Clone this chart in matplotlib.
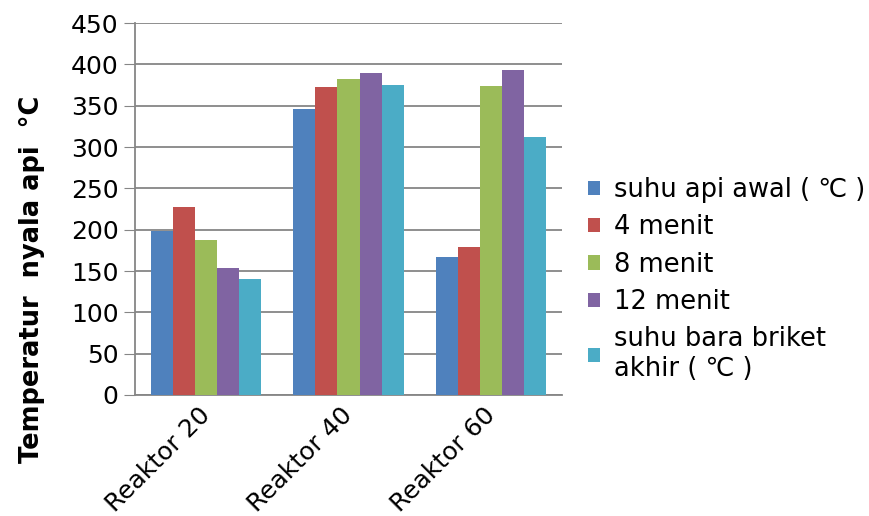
import numpy as np
import matplotlib.pyplot as plt
import matplotlib.transforms as mtransforms

categories = ["Reaktor 20", "Reaktor 40", "Reaktor 60"]
series_names = [
    "suhu api awal ( ℃ )",
    "4 menit",
    "8 menit",
    "12 menit",
    "suhu bara briket\nakhir ( ℃ )",
]
suhu_awal = [198, 346, 167]
menit_4 = [227, 372, 179]
menit_8 = [187, 382, 374]
menit_12 = [154, 390, 393]
suhu_akhir = [140, 375, 312]
yticks = [0, 50, 100, 150, 200, 250, 300, 350, 400, 450]

colors = ["#4F81BD", "#C0504D", "#9BBB59", "#8064A2", "#4BACC6"]

fig = plt.figure(figsize=(8.69, 5.16), dpi=100)
ax = fig.add_axes([0.1554, 0.2345, 0.4913, 0.7209])

x = np.arange(len(categories))
width = 0.155
all_series = [suhu_awal, menit_4, menit_8, menit_12, suhu_akhir]
for i, vals in enumerate(all_series):
    ax.bar(x + (i - 2) * width, vals, width, color=colors[i],
           label=series_names[i], zorder=3)

ax.set_xlim(-0.5, 2.5)
ax.set_ylim(0, 450)
ax.set_yticks(yticks)
ax.set_xticks(x)
ax.set_xticklabels(categories, rotation=45, ha="right",
                   rotation_mode="anchor", fontsize=18)
ax.tick_params(axis="y", labelsize=18, color="#868686", length=8, pad=4)
ax.tick_params(axis="x", length=0, pad=6)

# nudge rotated labels a bit to the left, like the original
shift = mtransforms.ScaledTranslation(-8 / 100, 0, fig.dpi_scale_trans)
for lbl in ax.get_xticklabels():
    lbl.set_transform(lbl.get_transform() + shift)

ax.grid(axis="y", color="#868686", linewidth=1.3, zorder=0)
for side in ["top", "right"]:
    ax.spines[side].set_visible(False)
ax.spines["left"].set_color("#868686")
ax.spines["bottom"].set_color("#868686")
ax.spines["left"].set_linewidth(1.3)
ax.spines["bottom"].set_linewidth(1.3)

ax.set_ylabel("Temperatur  nyala api  °C", fontsize=18.5,
              fontweight="bold")
ax.yaxis.set_label_coords(-0.21, 0.31)

fig.legend(loc="upper left", bbox_to_anchor=(0.6766, 0.657),
           frameon=False, fontsize=18.5, handlelength=0.48,
           handleheight=0.48, handletextpad=0.52, labelspacing=0.44,
           borderpad=0, borderaxespad=0)

fig.savefig("out.png", dpi=100)
